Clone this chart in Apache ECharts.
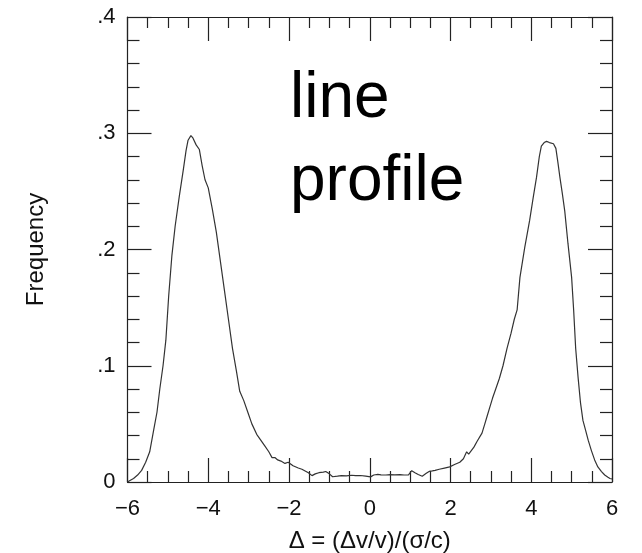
<!DOCTYPE html>
<html>
<head>
<meta charset="utf-8">
<script src="https://cdn.jsdelivr.net/npm/echarts@6/dist/echarts.min.js"></script>
<style>
html,body{margin:0;padding:0;background:#fff;}
#chart{width:642px;height:553px;}
</style>
</head>
<body>
<div id="chart"></div>
<script>
// Data
var deltaValues = [-6.00,-5.95,-5.85,-5.75,-5.65,-5.55,-5.45,-5.35,-5.27,-5.20,-5.12,-5.05,-4.98,-4.90,-4.82,-4.72,-4.62,-4.55,-4.50,-4.43,-4.38,-4.30,-4.22,-4.15,-4.08,-4.00,-3.90,-3.80,-3.70,-3.60,-3.50,-3.40,-3.30,-3.22,-3.12,-3.02,-2.92,-2.80,-2.70,-2.60,-2.50,-2.42,-2.35,-2.28,-2.20,-2.10,-2.02,-1.90,-1.77,-1.68,-1.60,-1.52,-1.43,-1.35,-1.26,-1.15,-1.09,-1.00,-0.92,-0.80,-0.70,-0.58,-0.45,-0.35,-0.23,-0.10,0.02,0.10,0.20,0.28,0.40,0.50,0.62,0.75,0.85,0.96,1.04,1.12,1.20,1.30,1.40,1.47,1.55,1.62,1.72,1.85,1.98,2.10,2.23,2.32,2.40,2.45,2.49,2.58,2.66,2.78,2.85,2.91,2.98,3.04,3.12,3.21,3.30,3.40,3.50,3.58,3.65,3.72,3.84,3.96,4.05,4.13,4.20,4.25,4.32,4.38,4.45,4.55,4.61,4.66,4.71,4.77,4.83,4.91,5.00,5.05,5.10,5.16,5.22,5.28,5.35,5.41,5.49,5.57,5.65,5.74,5.82,5.90,5.95,6.00];
var frequencyValues = [0.000,0.001,0.003,0.006,0.010,0.017,0.026,0.045,0.060,0.080,0.100,0.122,0.160,0.195,0.220,0.245,0.268,0.285,0.294,0.298,0.296,0.290,0.286,0.272,0.260,0.253,0.235,0.215,0.190,0.165,0.140,0.115,0.095,0.078,0.070,0.060,0.050,0.041,0.036,0.031,0.026,0.021,0.021,0.019,0.018,0.016,0.017,0.014,0.012,0.011,0.0095,0.008,0.0055,0.007,0.008,0.0085,0.009,0.007,0.0045,0.005,0.0055,0.0053,0.0058,0.0055,0.0056,0.005,0.0044,0.006,0.0065,0.0062,0.006,0.0064,0.0062,0.0063,0.006,0.0062,0.0097,0.008,0.0065,0.005,0.0075,0.0091,0.0095,0.010,0.011,0.012,0.013,0.015,0.017,0.020,0.026,0.024,0.024,0.030,0.035,0.042,0.050,0.057,0.065,0.072,0.080,0.089,0.100,0.115,0.128,0.140,0.148,0.176,0.202,0.225,0.245,0.262,0.280,0.289,0.292,0.293,0.292,0.291,0.287,0.275,0.262,0.248,0.233,0.205,0.176,0.148,0.115,0.090,0.068,0.053,0.044,0.036,0.027,0.019,0.013,0.009,0.006,0.004,0.003,0.0026];
var xTickLabels = {'-6':'\u22126','-4':'\u22124','-2':'\u22122','0':'0','2':'2','4':'4','6':'6'};
var yTickLabels = {'0':'0','0.1':'.1','0.2':'.2','0.3':'.3','0.4':'.4'};
var xTitle = '\u0394 = (\u0394v/v)/(\u03c3/c)';
var yTitle = 'Frequency';
var annotationLines = ['line', 'profile'];

var FONT = '"Liberation Sans", Arial, Helvetica, sans-serif';
var INK = '#222';

var seriesData = deltaValues.map(function (d, i) { return [d, frequencyValues[i]]; });

function fmtY(v) {
  var k = String(Math.round(v * 10) / 10);
  return yTickLabels[k] !== undefined ? yTickLabels[k] : '';
}
function fmtX(v) {
  var k = String(Math.round(v));
  return xTickLabels[k] !== undefined ? xTickLabels[k] : '';
}

var lineStyle = { color: INK, width: 1.2 };
function xAxisCfg(pos, showLabel) {
  return {
    type: 'value', position: pos, min: -6, max: 6, interval: 2,
    axisLine: { show: true, onZero: false, lineStyle: lineStyle },
    axisTick: { show: true, inside: true, length: 24, lineStyle: lineStyle },
    minorTick: { show: true, splitNumber: 4, length: 11, lineStyle: lineStyle },
    splitLine: { show: false },
    axisLabel: { show: showLabel, formatter: fmtX, margin: 16, color: '#111', fontSize: 22, fontFamily: FONT },
    name: showLabel ? xTitle : '', nameLocation: 'middle', nameGap: 47,
    nameTextStyle: { color: '#111', fontSize: 24, fontFamily: FONT }
  };
}
function yAxisCfg(pos, showLabel) {
  return {
    type: 'value', position: pos, min: 0, max: 0.4, interval: 0.1,
    axisLine: { show: true, onZero: false, lineStyle: lineStyle },
    axisTick: { show: true, inside: true, length: 24, lineStyle: lineStyle },
    minorTick: { show: true, splitNumber: 5, length: 12, lineStyle: lineStyle },
    splitLine: { show: false },
    axisLabel: { show: showLabel, formatter: fmtY, margin: 12, color: '#111', fontSize: 22, fontFamily: FONT },
    name: showLabel ? yTitle : '', nameLocation: 'middle', nameGap: 79, nameRotate: 90,
    nameTextStyle: { color: '#111', fontSize: 24, fontFamily: FONT }
  };
}

var chart = echarts.init(document.getElementById('chart'), null, { renderer: 'canvas' });
chart.setOption({
  animation: false,
  backgroundColor: '#fff',
  grid: { left: 127.5, top: 17, right: 30, bottom: 71, outerBoundsMode: 'none', containLabel: false },
  xAxis: [xAxisCfg('bottom', true), xAxisCfg('top', false)],
  yAxis: [yAxisCfg('left', true), yAxisCfg('right', false)],
  series: [{
    type: 'line', xAxisIndex: 0, yAxisIndex: 0,
    data: seriesData, showSymbol: false, smooth: false,
    lineStyle: { color: '#333', width: 1.2 }
  }],
  graphic: [
    { type: 'text', left: 290, top: 67, style: { text: annotationLines[0], fill: '#000', font: '64px ' + FONT } },
    { type: 'text', left: 290, top: 150, style: { text: annotationLines[1], fill: '#000', font: '64px ' + FONT } }
  ]
});
</script>
</body>
</html>
